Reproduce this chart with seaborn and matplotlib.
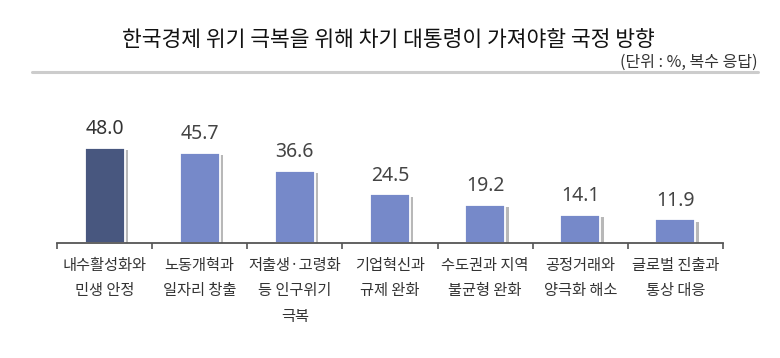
import matplotlib
matplotlib.use("Agg")
import matplotlib.pyplot as plt
import matplotlib.patheffects as pe
import seaborn as sns
import pandas as pd

categories = ["내수활성화와\n민생 안정", "노동개혁과\n일자리 창출", "저출생·고령화\n등 인구위기\n극복",
              "기업혁신과\n규제 완화", "수도권과 지역\n불균형 완화", "공정거래와\n양극화 해소", "글로벌 진출과\n통상 대응"]
values = [48.0, 45.7, 36.6, 24.5, 19.2, 14.1, 11.9]
value_labels = ["48.0", "45.7", "36.6", "24.5", "19.2", "14.1", "11.9"]
title = "한국경제 위기 극복을 위해 차기 대통령이 가져야할 국정 방향"
unit = "(단위 : %, 복수 응답)"

sns.set_theme(style="white")
plt.rcParams['font.family'] = ['Noto Sans CJK KR', 'DejaVu Sans']

df = pd.DataFrame({"cat": categories, "val": values})
colors = ["#48577F"] + ["#7689C9"] * 6

fig = plt.figure(figsize=(7.8, 3.58), dpi=100)
ax = fig.add_axes([57/780, 1 - 243/358, (723-57)/780, (243-80)/358])

sns.barplot(data=df, x="cat", y="val", hue="cat", palette=colors, legend=False,
            width=0.42, ax=ax, edgecolor="white", linewidth=1.3, saturation=1)

for p in ax.patches:
    p.set_path_effects([pe.SimplePatchShadow(offset=(2.5, -1.5), shadow_rgbFace="#a0a0a0", alpha=0.75),
                        pe.Normal()])

ax.set_xlim(-0.5, 6.5)
ax.set_ylim(0, (243-80)/1.98)
for i, (v, lab) in enumerate(zip(values, value_labels)):
    ax.text(i, v + 4.5, lab, ha="center", va="bottom", fontsize=14,
            color="#333333" if i == 0 else "#444444",
            fontweight="bold" if i == 0 else "normal", family=['Noto Sans', 'DejaVu Sans'])

for s in ["top", "right", "left"]:
    ax.spines[s].set_visible(False)
ax.spines["bottom"].set_color("#555555")
ax.spines["bottom"].set_linewidth(1.3)
ax.set_yticks([])
ax.set_xlabel("")
ax.set_ylabel("")
ax.set_xticks(range(len(categories)))
ax.set_xticklabels(categories, fontsize=11, color="#333333", linespacing=1.65, va="top")
ax.tick_params(axis="x", which="major", length=0, pad=10)
ax.set_xticks([i - 0.5 for i in range(len(categories) + 1)], minor=True)
ax.tick_params(axis="x", which="minor", bottom=True, length=4, width=1.2, color="#555555", direction="out")

fig.text(388/780, 1 - 40/358, title, ha="center", va="center", fontsize=15.5, color="#111111")
fig.text(758/780, 1 - 62/358, unit, ha="right", va="center", fontsize=11.5, color="#333333")
fig.add_artist(plt.Line2D([32/780, 758/780], [1 - 72/358, 1 - 72/358], color="#cccccc", linewidth=2.2))

fig.savefig("out.png", dpi=100, facecolor="white")
